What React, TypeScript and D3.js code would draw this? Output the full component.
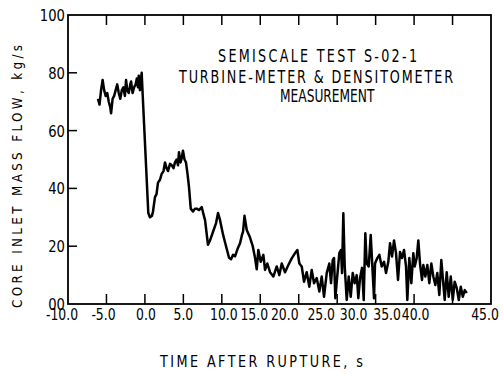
import React from "react";
import * as d3 from "d3";

const xTickValues = [-10, -5, 0, 5, 10, 15, 20, 25, 30, 35, 40, 45];
const xTickLabels = ["-10.0", "-5.0", "0.0", "5.0", "10.0", "15.0", "20.0", "25.0", "30.0", "35.0", "40.0", "45.0"];
const yTickValues = [0, 20, 40, 60, 80, 100];
const yTickLabels = ["00", "20", "40", "60", "80", "100"];

const titleLines = ["SEMISCALE TEST S-02-1", "TURBINE-METER & DENSITOMETER", "MEASUREMENT"];
const xTitle = "TIME AFTER RUPTURE, s";
const yTitle = "CORE INLET MASS FLOW, kg/s";

// time after rupture (s)
const timeS = [
  -6.1, -5.9, -5.7, -5.5, -5.3, -5.1, -4.9, -4.7, -4.5, -4.4, -4.2, -4.0, -3.8, -3.6, -3.4, -3.2, -3.0, -2.8, -2.6, -2.45,
  -2.3, -2.1, -1.9, -1.8, -1.6, -1.4, -1.2, -1.05, -0.9, -0.8, -0.65, -0.5, -0.42, -0.3,
  0.44, 0.66, 0.92, 1.05, 1.31, 1.51, 1.70, 1.96, 2.18, 2.42, 2.61, 2.81, 3.0, 3.26, 3.49, 3.72, 3.91, 4.13, 4.3, 4.43,
  4.63, 4.79, 4.95, 5.15, 5.34, 5.54, 5.73, 5.96, 6.25, 6.51, 6.74, 7.03, 7.39, 7.62, 7.82, 8.2, 8.47, 8.86, 9.25, 9.51,
  9.77, 10.16, 10.55, 10.94, 11.2, 11.46, 11.72, 12.04, 12.37, 12.63, 12.76, 12.95, 13.24, 13.67, 14.02, 14.32, 14.54,
  14.75, 15.06, 15.4, 15.62, 15.92, 16.27, 16.7, 17.14, 17.48, 17.79, 18.22, 18.65, 19.09, 19.52, 19.82, 20.08, 20.39,
  20.69, 21.04, 21.38, 21.69, 21.99, 22.34, 22.68, 22.99, 23.29, 23.64, 23.98, 24.2, 24.42, 24.59, 24.76, 25.02, 25.28,
  25.5, 25.63, 25.8, 25.98, 26.24, 26.5, 26.76, 27.02, 27.28, 27.54, 27.75, 27.97, 28.23, 28.45, 28.66, 28.84, 29.1,
  29.36, 29.53, 29.79, 29.92, 30.22, 30.48, 30.79, 31.09, 31.35, 31.65, 31.87, 32.13, 32.39, 32.65, 32.91, 33.17, 33.43,
  33.69, 33.95, 34.12, 34.38, 34.64, 34.9, 35.08, 35.34, 35.55, 35.77, 36.03, 36.2, 36.46, 36.72, 36.98, 37.24, 37.5,
  37.76, 38.02, 38.28, 38.54, 38.72, 38.98, 39.24, 39.5, 39.77, 40.03, 40.28, 40.55, 40.81, 41.07, 41.33, 41.59, 41.85,
];

// core inlet mass flow (kg/s)
const massFlow = [
  71, 69, 74, 77.5, 74, 72, 73, 70, 68, 66, 71, 72, 74, 76, 73, 71, 74, 75, 72, 77.5,
  74, 73, 76, 77, 73, 75, 76, 78, 75, 79, 74, 78, 80, 73,
  31.5, 30, 30.5, 32, 37, 38, 42, 43, 45, 46, 49, 47, 46, 48.5, 48, 47, 49, 50, 48, 52.5,
  49, 50.5, 53, 50, 49, 45, 40.5, 33, 32, 33, 33, 32.5, 33.5, 31, 29, 20.5, 22, 25, 28, 31.5,
  29, 24, 20, 16, 15.5, 17, 16.5, 19, 21, 24, 25, 30.5, 25.6, 23, 20, 16, 12,
  18.7, 14.6, 17, 11.8, 14, 11, 9.5, 13, 10, 14, 11, 13.5, 15.8, 17.6, 18.7, 14, 13,
  7.7, 11, 6, 11.8, 7.2, 9, 4.3, 9.5, 2.5, 10.7, 14, 7.2, 15.2, 15.9, 2, 10, 17.6,
  18.7, 10.7, 31.4, 13, 1.4, 9.5, 2.5, 10.7, 7.2, 10, 2, 9, 12.5, 1.4, 24.5, 14, 13,
  23.9, 15.2, 2, 14, 15.9, 17, 13, 14.6, 10.7, 14.6, 21, 16.4, 22, 17.6, 8.3, 18, 15.9,
  18.7, 13, 1.4, 15.9, 7.2, 17.6, 13, 15.9, 22, 14, 8.3, 13.5, 9.5, 13.5, 7.2, 14, 9.5,
  6.6, 10.7, 3.1, 15.2, 9.5, 1.4, 11, 2.5, 9.5, 1.4, 7.7, 5.5, 1.4, 6, 2.5, 4.8, 3.8,
];

const W = 503;
const H = 374;
const left = 68;
const right = 491;
const top = 15;
const bottom = 304;
const FONT = "'DejaVu Sans', sans-serif";
// hand-lettered label offsets (px) relative to each tick
const xLabelShift = [-6, -3, 1, 0, 2, -6, -14, -16, -22, -27, -37, -6];

type NTProps = {
  x: number;
  y: number;
  size: number;
  sx: number;
  anchor?: "start" | "middle" | "end";
  len?: number;
  rotate?: number;
  children: React.ReactNode;
};

function NText({ x, y, size, sx, anchor = "start", len, rotate = 0, children }: NTProps) {
  return (
    <text
      transform={`translate(${x},${y}) rotate(${rotate}) scale(${sx},1)`}
      x={0}
      y={0}
      fontSize={size}
      textAnchor={anchor}
      fill="#000"
      textLength={len ? len / sx : undefined}
      lengthAdjust={len ? "spacing" : undefined}
    >
      {children}
    </text>
  );
}

export default function App() {
  const x = d3.scaleLinear().domain([-10, 45]).range([left, right]);
  const y = d3.scaleLinear().domain([0, 100]).range([bottom, top]);
  const data = timeS.map((t, i) => [t, massFlow[i]] as [number, number]);
  const line = d3
    .line<[number, number]>()
    .x((d) => x(d[0]))
    .y((d) => y(d[1]));

  return (
    <svg
      width={W}
      height={H}
      style={{ position: "absolute", left: 0, top: 0, background: "#fff" }}
      fontFamily={FONT}
    >
      <rect x={0} y={0} width={W} height={H} fill="#fff" />
      <path d={line(data) || ""} fill="none" stroke="#000" strokeWidth={2.5} strokeLinejoin="round" />
      <rect x={left} y={top} width={right - left} height={bottom - top} fill="none" stroke="#000" strokeWidth={1.8} />
      {xTickValues.slice(1, -1).map((v) => (
        <g key={"xt" + v}>
          <line x1={x(v)} x2={x(v)} y1={bottom} y2={bottom - 10} stroke="#000" strokeWidth={1.5} />
          <line x1={x(v)} x2={x(v)} y1={top} y2={top + 10} stroke="#000" strokeWidth={1.5} />
        </g>
      ))}
      {yTickValues.slice(1, -1).map((v) => (
        <line key={"yt" + v} x1={left} x2={left + 9} y1={y(v)} y2={y(v)} stroke="#000" strokeWidth={1.5} />
      ))}
      {xTickValues.map((v, i) => (
        <NText key={"xl" + v} x={x(v) + xLabelShift[i]} y={320} size={15.5} sx={0.8} anchor="middle">
          {xTickLabels[i]}
        </NText>
      ))}
      {yTickValues.map((v, i) => (
        <NText key={"yl" + v} x={left - 3} y={y(v) + 6} size={15.5} sx={0.85} anchor="end">
          {yTickLabels[i]}
        </NText>
      ))}
      <NText x={218} y={62} size={17} sx={0.75} len={199}>
        {titleLines[0]}
      </NText>
      <NText x={179} y={83} size={17} sx={0.75} len={274}>
        {titleLines[1]}
      </NText>
      <NText x={280} y={102} size={17} sx={0.72}>
        {titleLines[2]}
      </NText>
      <NText x={160} y={367} size={16} sx={0.8} len={203}>
        {xTitle}
      </NText>
      <NText x={22} y={308} size={14} sx={0.85} len={263} rotate={-90}>
        {yTitle}
      </NText>
    </svg>
  );
}
